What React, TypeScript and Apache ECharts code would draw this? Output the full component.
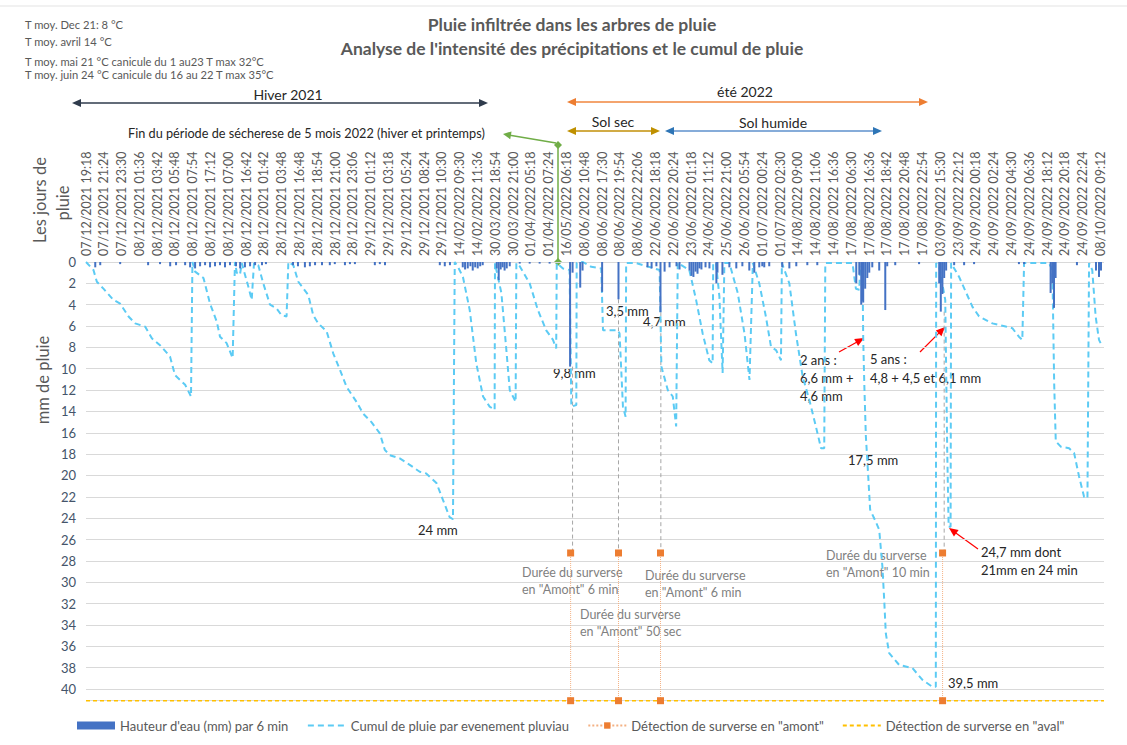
import React, { useEffect, useRef } from 'react';
import * as echarts from 'echarts';

// ---------- DATA ----------
const categories: string[] = [
  '07/12/2021 19:18', '07/12/2021 21:24', '07/12/2021 23:30', '08/12/2021 01:36', '08/12/2021 03:42',
  '08/12/2021 05:48', '08/12/2021 07:54', '08/12/2021 17:12', '08/12/2021 07:00', '08/12/2021 16:42',
  '28/12/2021 01:42', '28/12/2021 03:48', '28/12/2021 16:48', '28/12/2021 18:54', '28/12/2021 21:00',
  '28/12/2021 23:06', '29/12/2021 01:12', '29/12/2021 03:18', '29/12/2021 05:24', '29/12/2021 08:24',
  '29/12/2021 10:30', '14/02/2022 09:30', '14/02/2022 11:36', '30/03/2022 18:54', '30/03/2022 21:00',
  '01/04/2022 05:18', '01/04/2022 07:24', '16/05/2022 06:18', '08/06/2022 10:48', '08/06/2022 17:30',
  '08/06/2022 19:54', '08/06/2022 22:06', '22/06/2022 18:18', '22/06/2022 20:24', '23/06/2022 01:18',
  '24/06/2022 11:12', '25/06/2022 21:00', '26/06/2022 05:54', '01/07/2022 00:24', '01/07/2022 02:30',
  '14/08/2022 09:00', '14/08/2022 11:06', '14/08/2022 16:36', '17/08/2022 06:30', '17/08/2022 16:36',
  '17/08/2022 18:42', '17/08/2022 20:48', '17/08/2022 22:54', '03/09/2022 15:30', '23/09/2022 22:12',
  '24/09/2022 00:18', '24/09/2022 02:24', '24/09/2022 04:30', '24/09/2022 06:36', '24/09/2022 18:12',
  '24/09/2022 20:18', '24/09/2022 22:24', '08/10/2022 09:12',
];

// Hauteur d'eau (mm) par 6 min : [position on time axis (label index), mm]
const rainBars: [number, number][] = [
  [0.52, 0.5], [0.8, 0.3], [1.92, 0.2], [3.49, 0.3], [4.16, 0.2], [4.73, 0.4], [5.06, 0.3], [5.57, 0.3],
  [5.85, 0.5], [6.13, 0.6], [6.41, 0.4], [6.69, 0.3], [6.97, 0.5], [7.25, 0.4], [7.53, 0.3], [7.81, 0.5],
  [8.09, 0.3], [8.43, 0.4], [8.66, 0.6], [8.93, 0.5], [9.22, 0.4], [9.5, 0.3], [9.89, 0.3], [10.11, 0.2],
  [11.63, 0.3], [11.91, 0.4], [12.3, 0.5], [12.58, 0.4], [12.87, 0.3], [13.26, 0.3], [13.7, 0.3], [13.98, 0.2],
  [14.55, 0.3], [14.83, 0.2], [15.11, 0.2], [16.23, 0.3], [16.51, 0.2], [16.8, 0.3],
  [19.88, 0.3], [20.16, 0.4], [20.45, 0.3], [21.17, 0.5], [21.3, 0.7], [21.45, 0.6], [21.6, 0.4], [21.73, 0.8],
  [21.87, 0.5], [22.01, 0.6], [22.15, 0.4], [22.29, 0.3], [23.08, 0.6], [23.19, 1.7], [23.3, 0.7], [23.41, 0.5],
  [23.52, 0.8], [23.64, 0.6], [23.81, 0.4], [24.37, 0.15], [24.93, 0.15], [25.49, 0.15], [26.05, 0.15],
  [27.2, 9.8], [27.34, 1.0], [27.77, 2.4], [27.9, 0.8], [29.0, 2.8], [29.92, 3.5],
  [31.55, 0.5], [31.78, 0.6], [32.05, 0.4], [32.28, 4.7], [32.51, 0.9], [32.79, 0.5], [33.18, 0.4], [33.35, 0.7],
  [33.91, 0.8], [34.02, 1.3], [34.13, 1.4], [34.25, 0.9], [34.36, 1.1], [34.47, 0.6], [34.58, 0.7], [34.81, 0.5],
  [35.03, 0.6], [35.42, 2.0], [35.48, 1.0], [35.76, 1.2], [36.15, 0.5], [36.54, 0.6], [36.88, 0.4], [37.27, 0.8],
  [37.55, 1.0], [37.83, 0.5], [38.0, 0.4], [38.11, 0.5], [38.39, 0.4], [39.12, 0.5], [39.52, 0.6], [39.91, 0.4],
  [40.53, 0.3], [41.09, 0.3],
  [43.28, 2.0], [43.45, 1.2], [43.56, 4.0], [43.62, 3.6], [43.67, 3.8], [43.78, 2.5], [43.9, 1.5], [44.01, 1.0],
  [44.18, 0.5], [44.57, 0.8], [44.91, 4.5], [45.02, 0.4], [45.47, 0.3], [46.81, 0.2],
  [47.94, 2.0], [48.03, 4.65], [48.12, 3.0], [48.22, 1.5], [48.33, 0.8], [48.78, 0.3], [49.34, 0.3], [49.9, 0.2],
  [52.42, 0.2], [52.71, 0.2], [54.2, 2.9], [54.29, 2.0], [54.39, 4.3], [54.48, 1.5], [55.68, 0.3],
  [56.75, 0.8], [56.92, 1.4], [57.03, 0.8],
];

// Cumul de pluie par evenement pluviau : [position, mm]
const cumulRain: [number, number][] = [
  [0, 0], [0.42, 0.75], [0.61, 1.85], [0.98, 2.5], [1.54, 3.55], [1.92, 3.9], [2.39, 5.1], [2.76, 5.75],
  [3.32, 6.05], [3.7, 7.15], [4.16, 7.8], [4.72, 8.85], [5.0, 10.6], [5.57, 11.5], [5.9, 12.6], [5.98, 0],
  [6.13, 0.9], [6.6, 1.5], [6.97, 3.9], [7.35, 5.6], [7.53, 7.0], [7.9, 7.6], [8.24, 9.0], [8.37, 0],
  [8.47, 1.0], [8.65, 1.2], [8.75, 0.1], [9.12, 2.3], [9.31, 3.55], [9.44, 0.1], [9.68, 0.3], [9.96, 2.0],
  [10.34, 4.0], [10.71, 4.35], [10.99, 5.0], [11.27, 5.1], [11.37, 0], [11.65, 0.3], [11.93, 1.85], [12.49, 3.1],
  [12.77, 5.0], [13.05, 5.75], [13.52, 6.5], [13.89, 8.55], [14.27, 10.1], [14.64, 11.7], [15.2, 13.1],
  [15.57, 14.2], [16.04, 15.0], [16.51, 16.05], [16.79, 17.6], [17.07, 18.1], [17.63, 18.4], [18.19, 19.0],
  [18.75, 19.65], [19.1, 19.8], [19.69, 20.7], [20.06, 22.3], [20.43, 23.9], [20.62, 24.1], [20.72, 0],
  [20.9, 0.45], [21.18, 1.4], [21.56, 4.5], [21.93, 9.5], [22.31, 12.6], [22.68, 13.55], [22.96, 13.85],
  [22.98, 0.1], [23.06, 0.75], [23.34, 2.9], [23.62, 8.25], [23.81, 12.0], [24.14, 13.1], [24.18, 0.1],
  [24.37, 0.4], [24.93, 2.0], [25.39, 4.5], [25.86, 6.4], [26.24, 7.3], [26.42, 8.1], [26.45, 0.1],
  [26.8, 0.6], [27.17, 0.75], [27.27, 13.55], [27.55, 13.4], [27.57, 0.1], [27.92, 0], [28.39, 0.45],
  [28.95, 0.6], [29.05, 6.4], [29.89, 6.4], [29.98, 6.7], [30.17, 13.55], [30.32, 14.5], [30.35, 0.1],
  [30.91, 0.1], [32.23, 0.75], [32.33, 9.8], [32.69, 12.0], [32.97, 12.6], [33.16, 15.4], [33.25, 0.1],
  [33.9, 0.75], [34.28, 3.55], [34.65, 6.7], [35.02, 9.2], [35.21, 9.5], [35.24, 0.1], [35.4, 0.1],
  [35.59, 3.25], [35.77, 10.4], [35.87, 0.1], [36.15, 0.1], [36.62, 2.9], [37.0, 6.7], [37.28, 11.05],
  [37.47, 0.1], [37.83, 2.0], [38.2, 5.1], [38.49, 7.95], [38.77, 8.25], [39.05, 9.2], [39.1, 0.1],
  [39.52, 2.0], [39.89, 6.7], [40.27, 10.75], [40.64, 12.9], [41.01, 15.4], [41.3, 17.45], [41.48, 17.45],
  [41.54, 0.1], [43.07, 0.1], [43.17, 1.4], [43.26, 2.5], [43.45, 2.6], [43.5, 0.4], [43.63, 0.45],
  [43.67, 7.15], [43.73, 11.35], [43.82, 16.35], [43.91, 18.85], [44.06, 23.2], [44.38, 24.35], [44.57, 25.1],
  [44.75, 28.55], [44.85, 31.65], [44.94, 34.8], [45.13, 36.65], [45.69, 37.75], [46.44, 38.05], [47.0, 39.15],
  [47.56, 39.8], [47.75, 39.8], [47.77, 0.1], [47.94, 0.45], [48.28, 3.55], [48.39, 17.6], [48.47, 24.8],
  [48.58, 24.8], [48.61, 0.1], [49.06, 1.4], [49.81, 4.2], [50.18, 5.1], [50.93, 5.75], [51.68, 6.05],
  [52.05, 6.2], [52.42, 7.0], [52.61, 7.3], [52.71, 0.1], [54.11, 0.1], [54.3, 0.75], [54.4, 11.35],
  [54.49, 16.8], [54.77, 17.3], [55.24, 17.45], [55.52, 17.9], [55.8, 20.1], [56.08, 22.0], [56.27, 22.15],
  [56.36, 0.1], [56.54, 0.75], [56.73, 5.1], [56.92, 7.3], [57.01, 7.6],
];

// Détection de surverse en "amont" (positions of the 4 detections)
const amontPositions: number[] = [27.23, 29.92, 32.28, 48.13];
const amontLevel = 27.26;
// Détection de surverse en "aval"
const avalLevel = 41.1;
// Peak intensity (mm) at which each drop line starts
const dropPositions: number[] = [27.34, 29.92, 32.3, 48.22];
const dropStart: number[] = [9.8, 3.5, 4.7, 4.65];

const xMin = 0;
const xMax = 57.2;

// ---------- HELPERS ----------
const FONT = 'Lato, "Open Sans", sans-serif';

function txt(text: string, x: number, y: number, o: any = {}) {
  const size = o.size ?? 13;
  const weight = o.weight ?? 'normal';
  const align = o.align ?? 'left';
  const valign = o.valign ?? 'middle';
  return {
    type: 'text',
    x,
    y,
    rotation: o.rotation ?? 0,
    silent: true,
    style: {
      text,
      fill: o.color ?? '#262626',
      font: `${weight} ${size}px ${FONT}`,
      align,
      verticalAlign: valign,
      textAlign: align,
      textVerticalAlign: valign,
      lineHeight: o.lineHeight ?? Math.round(size * 1.35),
    },
  };
}

function head(tx: number, ty: number, fx: number, fy: number, color: string, len: number, w: number) {
  const a = Math.atan2(ty - fy, tx - fx);
  const bx = tx - len * Math.cos(a);
  const by = ty - len * Math.sin(a);
  const px = -Math.sin(a) * w;
  const py = Math.cos(a) * w;
  return {
    type: 'polygon',
    silent: true,
    shape: { points: [[tx, ty], [bx + px, by + py], [bx - px, by - py]] },
    style: { fill: color },
  };
}

function arrow(x1: number, y1: number, x2: number, y2: number, color: string, opts: any = {}) {
  const width = opts.width ?? 1.5;
  const len = opts.len ?? 9;
  const w = opts.w ?? 4;
  const headColor = opts.headColor ?? color;
  const a = Math.atan2(y2 - y1, x2 - x1);
  const both = !!opts.both;
  const sx = both ? x1 + (len - 1) * Math.cos(a) : x1;
  const sy = both ? y1 + (len - 1) * Math.sin(a) : y1;
  const ex = x2 - (len - 1) * Math.cos(a);
  const ey = y2 - (len - 1) * Math.sin(a);
  const els: any[] = [
    { type: 'line', silent: true, shape: { x1: sx, y1: sy, x2: ex, y2: ey }, style: { stroke: color, lineWidth: width } },
    head(x2, y2, x1, y1, headColor, len, w),
  ];
  if (both) els.push(head(x1, y1, x2, y2, headColor, len, w));
  return els;
}

function diamond(cx: number, cy: number, r: number, color: string) {
  return {
    type: 'polygon',
    silent: true,
    shape: { points: [[cx, cy - r], [cx + r, cy], [cx, cy + r], [cx - r, cy]] },
    style: { fill: color },
  };
}

// ---------- SERIES DATA BUILDING ----------
const amontData: any[] = [];
amontPositions.forEach((x) => {
  amontData.push([x, amontLevel], [x, avalLevel], [x, '-']);
});
const dropData: any[] = [];
dropPositions.forEach((x, i) => {
  dropData.push([x, dropStart[i]], [x, amontLevel], [x, '-']);
});

const GRAY = '#595959';
const GREEN = '#70ad47';

const graphics: any[] = [
  { type: 'line', silent: true, shape: { x1: 0, y1: 6, x2: 1127, y2: 6 }, style: { stroke: '#e3e3e3', lineWidth: 1 } },
  // notes
  txt('T moy. Dec 21: 8 °C', 25, 24, { size: 11.2, color: GRAY }),
  txt('T moy. avril 14 °C', 25, 41, { size: 11.2, color: GRAY }),
  txt('T moy. mai 21 °C canicule du 1 au23 T max 32°C', 25, 61, { size: 11.2, color: GRAY }),
  txt('T moy. juin 24 °C canicule du 16 au 22 T max 35°C', 25, 74, { size: 11.2, color: GRAY }),
  // title
  txt('Pluie infiltrée dans les arbres de pluie', 572, 24, { size: 17.5, weight: 'bold', color: GRAY, align: 'center' }),
  txt("Analyse de l'intensité des précipitations et le cumul de pluie", 572, 48, { size: 17.5, weight: 'bold', color: GRAY, align: 'center' }),
  // seasons
  txt('Hiver 2021', 288, 94, { size: 14, color: '#262626', align: 'center' }),
  ...arrow(72, 103, 488, 103, '#2f3b4c', { both: true, width: 1.5 }),
  txt('été 2022', 745, 91, { size: 14, color: '#262626', align: 'center' }),
  ...arrow(567, 102, 928, 102, '#f4a46e', { both: true, width: 2, headColor: '#ed7d31' }),
  txt('Sol sec', 613, 121, { size: 14, color: '#262626', align: 'center' }),
  ...arrow(567, 131, 660, 131, '#d1ab45', { both: true, width: 2, headColor: '#bf9000' }),
  txt('Sol humide', 773, 122, { size: 14, color: '#262626', align: 'center' }),
  ...arrow(665, 131, 882, 131, '#86acd9', { both: true, width: 2, headColor: '#2e75b6' }),
  txt('Fin du période de sécherese de 5 mois 2022 (hiver et printemps)', 128, 133, { size: 12.7, color: '#262626' }),
  // green marker
  { type: 'line', silent: true, shape: { x1: 558, y1: 145, x2: 558, y2: 262 }, style: { stroke: GREEN, lineWidth: 1.5 } },
  ...arrow(556, 143, 503, 134, GREEN, { width: 1.5, len: 8, w: 4 }),
  diamond(558, 145, 4, GREEN),
  diamond(558, 262, 4, GREEN),
  // axis titles
  txt('Les jours de', 40, 200, { size: 16.5, color: GRAY, align: 'center', rotation: Math.PI / 2 }),
  txt('pluie', 63, 203, { size: 16.5, color: GRAY, align: 'center', rotation: Math.PI / 2 }),
  txt('mm de pluie', 43, 380, { size: 16.5, color: GRAY, align: 'center', rotation: Math.PI / 2 }),
  // value labels
  txt('24 mm', 418, 530, { size: 13 }),
  txt('9,8 mm', 553, 373, { size: 13 }),
  txt('3,5 mm', 606, 311, { size: 13 }),
  txt('4,7 mm', 643, 322, { size: 13 }),
  txt('2 ans :\n6,6 mm +\n4,6 mm', 800, 351, { size: 13, valign: 'top', lineHeight: 18 }),
  txt('5 ans :\n4,8 + 4,5 et 6,1 mm', 870, 349, { size: 13, valign: 'top', lineHeight: 19 }),
  txt('17,5 mm', 848, 460, { size: 13 }),
  txt('24,7 mm dont\n21mm en 24 min', 981, 543, { size: 13, valign: 'top', lineHeight: 18 }),
  txt('39,5 mm', 948, 683, { size: 13 }),
  txt('Durée du surverse\nen "Amont" 6 min', 522, 564, { size: 12.5, color: '#7f7f7f', valign: 'top', lineHeight: 17 }),
  txt('Durée du surverse\nen "Amont" 50 sec', 580, 606, { size: 12.5, color: '#7f7f7f', valign: 'top', lineHeight: 17 }),
  txt('Durée du surverse\nen "Amont" 6 min', 645, 567, { size: 12.5, color: '#7f7f7f', valign: 'top', lineHeight: 17 }),
  txt('Durée du surverse\nen "Amont" 10 min', 826, 547, { size: 12.5, color: '#7f7f7f', valign: 'top', lineHeight: 17 }),
  // red arrows
  ...arrow(839, 352, 864, 338, '#ff0000', { width: 1.2, len: 9, w: 4 }),
  ...arrow(920, 352, 945, 327, '#ff0000', { width: 1.2, len: 9, w: 4 }),
  ...arrow(978, 549, 949, 528, '#ff0000', { width: 1.2, len: 9, w: 4 }),
];

const option: any = {
  animation: false,
  backgroundColor: '#ffffff',
  grid: { left: 86, right: 23, top: 262, bottom: 44.3, containLabel: false },
  xAxis: {
    type: 'value',
    position: 'top',
    min: xMin,
    max: xMax,
    interval: 1,
    axisLine: { show: false },
    axisTick: { show: false },
    splitLine: { show: false },
    axisLabel: {
      rotate: 90,
      margin: 6,
      color: GRAY,
      fontSize: 12.5,
      fontFamily: FONT,
      formatter: (v: number) => {
        const i = Math.round(v);
        return Math.abs(v - i) < 1e-6 && categories[i] ? categories[i] : '';
      },
    },
  },
  yAxis: {
    type: 'value',
    inverse: true,
    min: 0,
    max: avalLevel,
    interval: 2,
    axisLine: { show: false },
    axisTick: { show: false },
    splitLine: { lineStyle: { color: '#d9d9d9', width: 1 } },
    axisLabel: {
      color: '#44546a',
      fontSize: 13,
      fontFamily: FONT,
      margin: 10,
      formatter: (v: number) => (Math.abs(v % 2) < 1e-6 ? String(v) : ''),
    },
  },
  legend: {
    left: 72,
    top: 714,
    itemWidth: 38,
    itemHeight: 8,
    itemGap: 18,
    textStyle: { color: GRAY, fontSize: 13, fontFamily: FONT },
    data: [
      { name: "Hauteur d'eau (mm) par 6 min", icon: 'rect' },
      { name: 'Cumul de pluie par evenement pluviau', itemStyle: { opacity: 0 } },
      { name: 'Détection de surverse en "amont"' },
      { name: 'Détection de surverse en "aval"', itemStyle: { opacity: 0 } },
    ],
  },
  graphic: graphics,
  series: [
    {
      name: 'drop',
      type: 'line',
      data: dropData,
      symbol: 'none',
      silent: true,
      lineStyle: { color: '#a6a6a6', width: 1, type: [4, 3] },
      z: 1,
    },
    {
      name: "Hauteur d'eau (mm) par 6 min",
      type: 'bar',
      data: rainBars,
      barWidth: 2,
      itemStyle: { color: '#4472c4' },
      z: 3,
    },
    {
      name: 'Cumul de pluie par evenement pluviau',
      type: 'line',
      data: cumulRain,
      symbol: 'none',
      lineStyle: { color: '#5ccbf4', width: 2, type: [6, 4] },
      itemStyle: { color: '#5ccbf4' },
      z: 2,
    },
    {
      name: 'Détection de surverse en "aval"',
      type: 'line',
      data: [[xMin, avalLevel], [xMax, avalLevel]],
      symbol: 'none',
      clip: false,
      lineStyle: { color: '#ffc000', width: 1.5, type: [4, 3] },
      itemStyle: { color: '#ffc000' },
      z: 4,
    },
    {
      name: 'Détection de surverse en "amont"',
      type: 'line',
      data: amontData,
      symbol: 'rect',
      symbolSize: 7,
      showSymbol: true,
      clip: false,
      connectNulls: false,
      lineStyle: { color: '#f4b183', width: 1, type: 'dotted' },
      itemStyle: { color: '#ed7d31' },
      z: 5,
    },
  ],
};

export default function App() {
  const ref = useRef<HTMLDivElement>(null);
  useEffect(() => {
    if (!ref.current) return;
    const chart = echarts.init(ref.current, null, { renderer: 'svg' });
    chart.setOption(option);
    return () => chart.dispose();
  }, []);
  return (
    <div
      ref={ref}
      style={{ position: 'fixed', left: 0, top: 0, width: 1127, height: 745, background: '#ffffff' }}
    />
  );
}
